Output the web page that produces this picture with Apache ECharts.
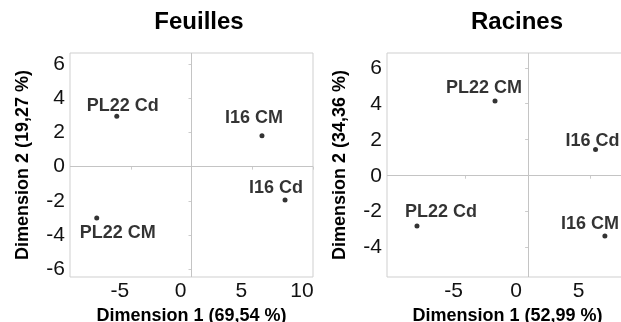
<!DOCTYPE html>
<html><head><meta charset="utf-8">
<script src="https://cdn.jsdelivr.net/npm/echarts@6/dist/echarts.min.js"></script>
<style>html,body{margin:0;padding:0;background:#fff}#c{width:621px;height:322px}</style>
</head><body><div id="c"></div>
<script>
// Feuilles (leaves)
const feuillesNames = ['PL22 Cd', 'PL22 CM', 'I16 CM', 'I16 Cd'];
const feuillesDim1 = [-6.15, -7.8, 5.8, 7.7];
const feuillesDim2 = [2.95, -3.0, 1.8, -1.95];
// Racines (roots)
const racinesNames = ['PL22 CM', 'I16 Cd', 'PL22 Cd', 'I16 CM'];
const racinesDim1 = [-2.65, 5.4, -8.9, 6.15];
const racinesDim2 = [4.15, 1.45, -2.8, -3.35];

const titles = ['Feuilles', 'Racines'];
const xNames = ['Dimension 1 (69,54 %)', 'Dimension 1 (52,99 %)'];
const yNames = ['Dimension 2 (19,27 %)', 'Dimension 2 (34,36 %)'];
const feuillesXTicks = [-5, 0, 5, 10];
const feuillesYTicks = [-6, -4, -2, 0, 2, 4, 6];
const racinesXTicks = [-5, 0, 5];
const racinesYTicks = [-4, -2, 0, 2, 4, 6];

// label placement (style only)
const feuillesLabelOffsets = [[6, -10], [21, 15], [-8, -18], [-9, -12]];
const racinesLabelOffsets = [[-11, -13], [-3, -9], [24, -14], [-15, -12]];

function pts(names, xs, ys, offs) {
  return names.map((n, i) => ({
    name: n, value: [xs[i], ys[i]],
    label: { offset: offs[i] }
  }));
}

const FONT = 'Liberation Sans, Arial, sans-serif';
const tickLabel = { color: '#111', fontSize: 21, fontFamily: FONT };
const nameStyle = { color: '#000', fontSize: 18, fontWeight: 'bold', fontFamily: FONT };

function xAx(idx, min, max, ticks, pad) {
  return {
    type: 'value', gridIndex: idx, min: min, max: max,
    name: xNames[idx], nameLocation: 'middle', nameGap: 28, nameTextStyle: nameStyle,
    splitLine: { show: false },
    axisLine: { show: false },
    axisTick: { show: true, customValues: ticks, length: 3, lineStyle: { color: '#ccc' } },
    axisLabel: Object.assign({ customValues: ticks, margin: 4, padding: [0, pad, 0, 0] }, tickLabel)
  };
}
function yAx(idx, min, max, ticks, gap) {
  return {
    type: 'value', gridIndex: idx, min: min, max: max,
    name: yNames[idx], nameLocation: 'middle', nameGap: gap, nameTextStyle: nameStyle,
    splitLine: { show: false },
    axisLine: { show: false },
    axisTick: { show: true, customValues: ticks, length: 3, lineStyle: { color: '#ccc' } },
    axisLabel: Object.assign({ customValues: ticks, margin: 5 }, tickLabel)
  };
}
function ser(idx, data) {
  return {
    type: 'scatter', xAxisIndex: idx, yAxisIndex: idx,
    data: data, symbolSize: 5, itemStyle: { color: '#000' },
    label: {
      show: true, position: 'inside', formatter: '{b}',
      color: '#000', fontSize: 18, fontWeight: 'bold', fontFamily: FONT
    },
    markLine: {
      silent: true, symbol: 'none', label: { show: false },
      lineStyle: { color: '#c4c4c4', width: 1, type: 'solid' },
      data: [{ xAxis: 0 }, { yAxis: 0 }]
    },
    z: 3
  };
}

const chart = echarts.init(document.getElementById('c'));
chart.setOption({
  animation: false,
  backgroundColor: '#fff',
  title: [
    { text: titles[0], left: 194, top: 5, textAlign: 'center',
      textStyle: { fontSize: 24, fontWeight: 'bold', color: '#000', fontFamily: FONT } },
    { text: titles[1], left: 512, top: 5, textAlign: 'center',
      textStyle: { fontSize: 24, fontWeight: 'bold', color: '#000', fontFamily: FONT } }
  ],
  grid: [
    { left: 70, right: 308, top: 53, bottom: 45, show: true, borderColor: '#cfcfcf', borderWidth: 1,
      backgroundColor: '#fff', outerBoundsMode: 'none', containLabel: false },
    { left: 387, right: -7, top: 53, bottom: 45, show: true, borderColor: '#cfcfcf', borderWidth: 1,
      backgroundColor: '#fff', outerBoundsMode: 'none', containLabel: false }
  ],
  xAxis: [
    xAx(0, -10, 10, feuillesXTicks, 22),
    xAx(1, -11.3, 8, racinesXTicks, 24)
  ],
  yAxis: [
    yAx(0, -6.45, 6.64, feuillesYTicks, 38),
    yAx(1, -5.63, 6.82, racinesYTicks, 38)
  ],
  series: [
    ser(0, pts(feuillesNames, feuillesDim1, feuillesDim2, feuillesLabelOffsets)),
    ser(1, pts(racinesNames, racinesDim1, racinesDim2, racinesLabelOffsets))
  ]
});
</script></body></html>
